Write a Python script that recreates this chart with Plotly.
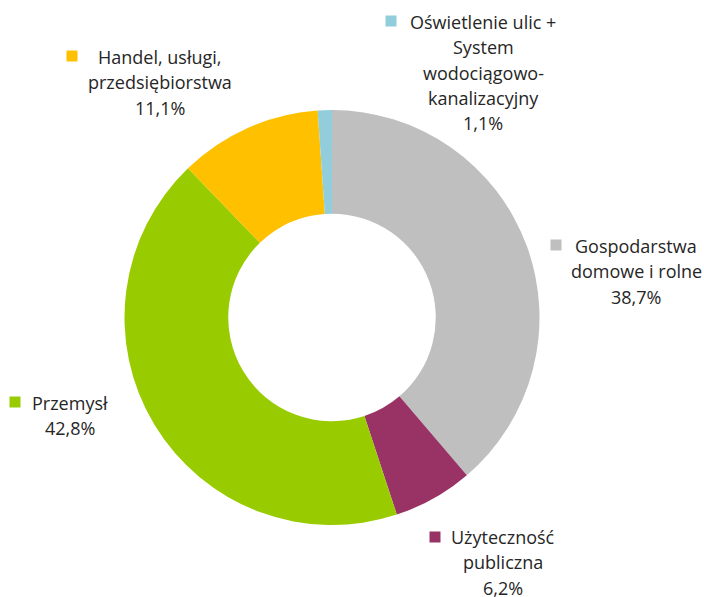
import plotly.graph_objects as go

# Data
categories = [
    "Gospodarstwa domowe i rolne",
    "Użyteczność publiczna",
    "Przemysł",
    "Handel, usługi, przedsiębiorstwa",
    "Oświetlenie ulic + System wodociągowo-kanalizacyjny",
]
values = [38.7, 6.2, 42.8, 11.1, 1.1]
colors = ["#BFBFBF", "#993366", "#99CC00", "#FFC000", "#92CDDC"]
label_lines = [
    ["Gospodarstwa", "domowe i rolne"],
    ["Użyteczność", "publiczna"],
    ["Przemysł"],
    ["Handel, usługi,", "przedsiębiorstwa"],
    ["Oświetlenie ulic +", "System", "wodociągowo-", "kanalizacyjny"],
]

W, H = 704, 597
# label layout (pixels): marker centre, text centre x, first line y
label_pos = [
    dict(mx=556, my=245, tx=636, ty=246),
    dict(mx=435, my=537, tx=503, ty=537),
    dict(mx=15, my=402, tx=70, ty=403),
    dict(mx=72, my=56, tx=160, ty=57),
    dict(mx=391, my=21, tx=483, ty=22),
]
LINE_H = 25.3

fig = go.Figure(
    go.Pie(
        labels=categories,
        values=values,
        marker=dict(colors=colors, line=dict(color="white", width=0)),
        hole=0.5,
        sort=False,
        direction="clockwise",
        rotation=0,
        textinfo="none",
        hoverinfo="label+percent",
        domain=dict(x=[124 / W, 540 / W], y=[1 - 525 / H, 1 - 110 / H]),
        showlegend=False,
    )
)

annotations = []
shapes = []
for lines, v, c, p in zip(label_lines, values, colors, label_pos):
    all_lines = lines + [f"{v:.1f}".replace(".", ",") + "%"]
    for i, t in enumerate(all_lines):
        annotations.append(
            dict(
                x=p["tx"] / W,
                y=1 - (p["ty"] + i * LINE_H) / H,
                xref="paper",
                yref="paper",
                text=t,
                showarrow=False,
                xanchor="center",
                yanchor="middle",
                font=dict(family="Open Sans", size=18, color="#262626"),
            )
        )
    s = 5.5
    shapes.append(
        dict(
            type="rect",
            xref="paper",
            yref="paper",
            x0=(p["mx"] - s) / W,
            x1=(p["mx"] + s) / W,
            y0=1 - (p["my"] + s) / H,
            y1=1 - (p["my"] - s) / H,
            fillcolor=c,
            line=dict(width=0),
        )
    )

fig.update_layout(
    width=W,
    height=H,
    margin=dict(l=0, r=0, t=0, b=0),
    paper_bgcolor="white",
    plot_bgcolor="white",
    annotations=annotations,
    shapes=shapes,
)

fig.write_html(
    "out.html",
    config={"displayModeBar": False},
    post_script="document.body.style.margin='0';document.body.style.overflow='hidden';",
)
